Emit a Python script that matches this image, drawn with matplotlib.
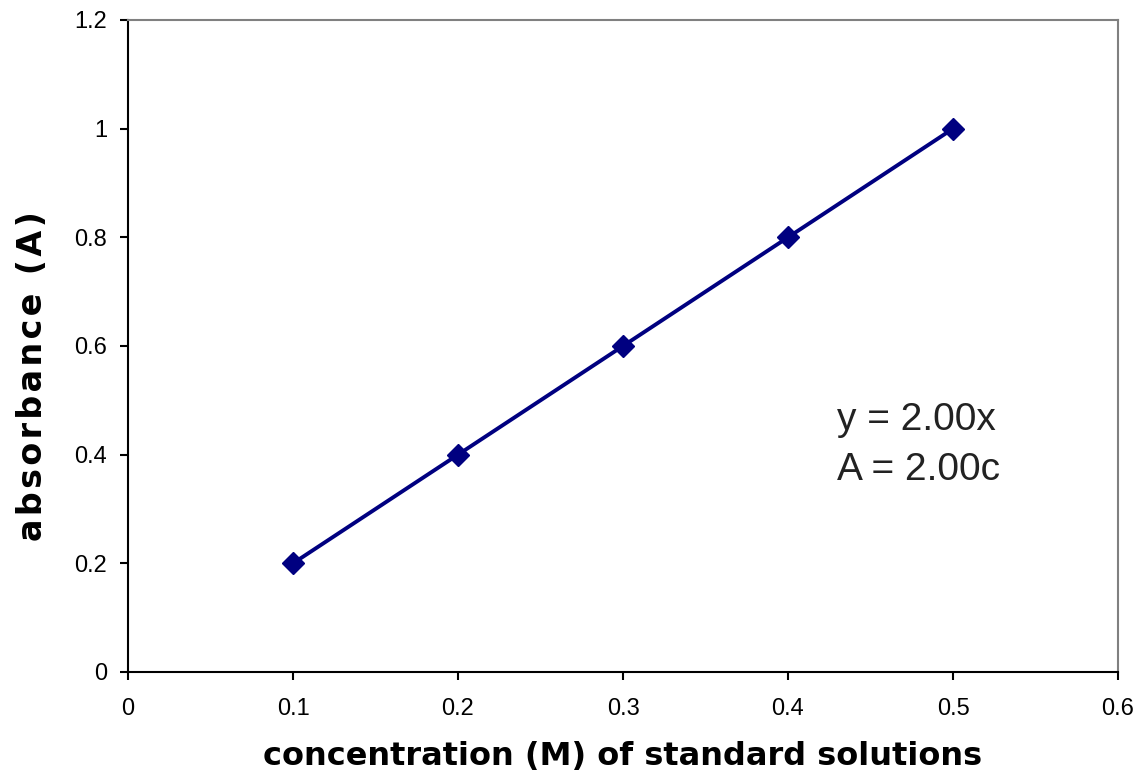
import matplotlib
matplotlib.use("Agg")
import matplotlib.pyplot as plt

# standard solutions: concentration (M) vs absorbance
conc = [0.1, 0.2, 0.3, 0.4, 0.5]
absorb = [0.2, 0.4, 0.6, 0.8, 1.0]
xticks = [0, 0.1, 0.2, 0.3, 0.4, 0.5, 0.6]
xtick_labels = ["0", "0.1", "0.2", "0.3", "0.4", "0.5", "0.6"]
yticks = [0, 0.2, 0.4, 0.6, 0.8, 1.0, 1.2]
ytick_labels = ["0", "0.2", "0.4", "0.6", "0.8", "1", "1.2"]

plt.rcParams['font.family'] = ['Liberation Sans', 'DejaVu Sans']


def spaced(s, gap="\u200a"):
    # old excel label look: letters a bit further apart
    return gap.join(s)


fig = plt.figure(figsize=(11.39, 7.83), dpi=100)
ax = fig.add_axes([128 / 1139, 111 / 783, 990 / 1139, 652 / 783])

ax.plot(conc, absorb, color="#000080", lw=2.8, marker="D", ms=11.5,
        markerfacecolor="#000080", markeredgecolor="#000080")

ax.set_xlim(0, 0.6)
ax.set_ylim(0, 1.2)
ax.set_xticks(xticks)
ax.set_xticklabels(xtick_labels)
ax.set_yticks(yticks)
ax.set_yticklabels(ytick_labels)
ax.tick_params(axis="both", direction="out", length=6, width=1.5, labelsize=17)
ax.tick_params(axis="x", pad=13)
ax.tick_params(axis="y", pad=9)

for s in ("left", "bottom"):
    ax.spines[s].set_color("black")
    ax.spines[s].set_linewidth(1.5)
for s in ("top", "right"):
    ax.spines[s].set_color("#808080")
    ax.spines[s].set_linewidth(1.5)

# fitted equation
ax.text(0.4297, 0.4638, "y = 2.00x", fontsize=28, color="#222222",
        ha="left", va="center")
ax.text(0.4297, 0.3718, "A = 2.00c", fontsize=28, color="#222222",
        ha="left", va="center")

fig.text(623 / 1139, 1 - 757 / 783, "concentration (M) of standard solutions",
         fontsize=23, fontweight="bold", family="DejaVu Sans",
         ha="center", va="center")
fig.text(33 / 1139, 1 - 376 / 783, spaced("absorbance (A)"), fontsize=24,
         fontweight="bold", family="DejaVu Sans", rotation=90,
         ha="center", va="center")

fig.savefig("out.png", dpi=100)
